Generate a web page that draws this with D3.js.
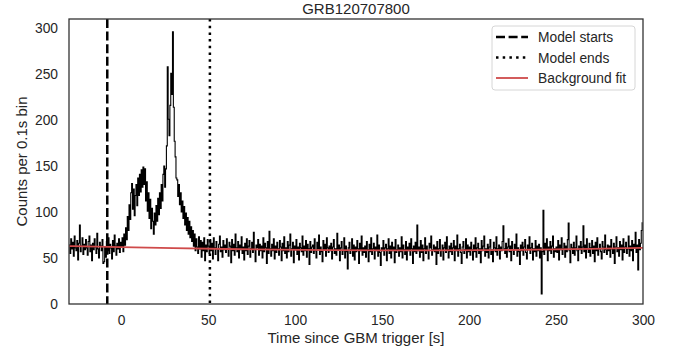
<!DOCTYPE html>
<html>
<head>
<meta charset="utf-8">
<script src="https://cdn.jsdelivr.net/npm/d3@7"></script>
<style>
  html, body { margin: 0; padding: 0; background: #fff; }
  svg { display: block; font-family: "Liberation Sans", Arial, sans-serif; }
</style>
</head>
<body>
<svg id="chart" width="680" height="354"></svg>
<script>
// light curve, one value every 0.5 s starting at -30 s
const startTime = -30;
const binStep = 0.5;
const counts = [
  64, 55, 71, 60, 67, 52, 74, 61, 58, 69, 48, 66, 86, 57, 63, 72, 54, 65, 59, 70,
  61, 53, 68, 74, 57, 64, 47, 66, 59, 71, 62, 55, 77, 60, 50, 67, 63, 58, 70, 44,
  46, 62, 51, 68, 58, 72, 55, 65, 61, 49, 69, 57, 75, 63, 53, 66, 60, 71, 56, 67,
  62, 72, 57, 76, 64, 83, 70, 95, 80, 108, 92, 121, 131, 103, 125, 96, 118, 130, 107, 137,
  118, 141, 122, 146, 127, 149, 130, 147, 112, 133, 101, 121, 93, 114, 82, 104, 90, 76, 99, 86,
  107, 90, 115, 97, 121, 104, 130, 112, 141, 150, 127, 147, 172, 258, 201, 183, 216, 251, 228, 296,
  214, 177, 160, 137, 135, 117, 130, 108, 121, 100, 112, 93, 106, 86, 99, 80, 94, 76, 90, 72,
  84, 68, 80, 63, 76, 58, 71, 62, 55, 73, 60, 69, 51, 67, 58, 72, 47, 64, 57, 70,
  63, 55, 70, 58, 66, 49, 72, 61, 54, 68, 60, 47, 65, 74, 57, 62, 51, 69, 59, 64,
  56, 71, 60, 52, 67, 63, 45, 70, 58, 65, 53, 76, 61, 57, 68, 50, 64, 59, 73, 55,
  62, 48, 66, 58, 71, 54, 63, 69, 51, 60, 67, 56, 78, 59, 46, 64, 61, 70, 53, 65,
  58, 63, 50, 72, 57, 66, 61, 44, 68, 55, 79, 60, 52, 65, 58, 71, 49, 63, 56, 67,
  60, 53, 69, 62, 47, 66, 58, 73, 55, 61, 50, 68, 57, 64, 76, 52, 60, 67, 45, 63,
  59, 70, 54, 62, 48, 66, 61, 57, 74, 53, 63, 58, 69, 51, 65, 60, 43, 68, 56, 62,
  64, 55, 71, 58, 50, 67, 60, 75, 54, 62, 57, 46, 69, 59, 65, 52, 72, 61, 56, 63,
  58, 66, 49, 62, 70, 55, 60, 53, 77, 59, 64, 47, 61, 68, 54, 58, 72, 50, 63, 57,
  38, 61, 67, 55, 59, 71, 52, 64, 48, 62, 57, 69, 60, 44, 66, 58, 74, 53, 61, 56,
  63, 51, 68, 59, 46, 65, 57, 72, 54, 60, 66, 49, 62, 58, 75, 52, 64, 56, 42, 61,
  58, 69, 53, 61, 65, 47, 60, 71, 55, 63, 50, 67, 58, 62, 45, 70, 56, 59, 64, 52,
  61, 57, 73, 50, 64, 59, 54, 68, 48, 62, 58, 66, 53, 71, 60, 44, 63, 57, 67, 55,
  86, 58, 62, 51, 69, 56, 64, 47, 60, 72, 55, 63, 58, 49, 66, 61, 74, 53, 59, 64,
  57, 62, 43, 68, 55, 60, 70, 52, 58, 64, 48, 61, 67, 56, 73, 59, 50, 63, 57, 66,
  54, 61, 69, 47, 63, 58, 75, 52, 60, 65, 56, 44, 62, 68, 55, 59, 71, 50, 64, 57,
  62, 53, 67, 59, 48, 64, 57, 72, 51, 61, 66, 55, 60, 45, 69, 58, 63, 74, 52, 60,
  56, 65, 50, 62, 70, 54, 59, 46, 67, 61, 57, 73, 53, 60, 64, 49, 62, 58, 68, 85,
  60, 55, 66, 51, 62, 71, 57, 63, 47, 68, 59, 54, 65, 60, 76, 52, 61, 57, 43, 64,
  58, 67, 53, 62, 70, 56, 49, 64, 59, 73, 55, 61, 66, 48, 60, 57, 69, 52, 63, 58,
  65, 50, 61, 11, 57, 102, 54, 66, 59, 71, 47, 62, 58, 68, 55, 63, 74, 51, 60, 57,
  62, 56, 69, 48, 64, 59, 72, 54, 60, 66, 51, 63, 57, 70, 88, 58, 45, 65, 61, 55,
  67, 53, 61, 74, 58, 47, 63, 59, 68, 55, 62, 85, 57, 64, 50, 71, 60, 56, 66, 52,
  61, 69, 55, 63, 46, 67, 58, 72, 53, 60, 65, 57, 49, 68, 62, 56, 75, 59, 54, 64,
  58, 63, 51, 70, 60, 55, 66, 44, 62, 73, 57, 61, 52, 68, 59, 64, 48, 71, 56, 62,
  67, 55, 60, 74, 52, 63, 58, 69, 47, 65, 61, 78, 56, 64, 37, 70, 59, 66, 80, 89
];

// background fit, sampled along the red curve
const fitTimes = [-30, 0, 30, 60, 90, 120, 150, 180, 210, 240, 270, 300];
const fitValues = [63.0, 61.8, 60.7, 59.8, 59.1, 58.6, 58.3, 58.3, 58.5, 59.1, 59.9, 61.0];

const modelStart = -8;
const modelEnd = 51;

const xTicks = [0, 50, 100, 150, 200, 250, 300];
const yTicks = [0, 50, 100, 150, 200, 250, 300];
const legendLabels = ["Model starts", "Model ends", "Background fit"];

const chartTitle = "GRB120707800";
const xLabel = "Time since GBM trigger [s]";
const yLabel = "Counts per 0.1s bin";

const margin = { top: 19, right: 37, bottom: 50, left: 69 };
const width = 680 - margin.left - margin.right;
const height = 354 - margin.top - margin.bottom;
const textColor = "#262626";

const svg = d3.select("#chart");
const g = svg.append("g").attr("transform", `translate(${margin.left},${margin.top})`);

const x = d3.scaleLinear().domain([-30, 300]).range([0, width]);
const y = d3.scaleLinear().domain([0, 310]).range([height, 0]);

const lcData = counts.map((c, i) => ({ t: startTime + i * binStep, c }));
const fitData = fitTimes.map((t, i) => ({ t, c: fitValues[i] }));

g.append("clipPath").attr("id", "plotClip")
  .append("rect").attr("width", width).attr("height", height);

const plot = g.append("g").attr("clip-path", "url(#plotClip)");

// light curve
plot.append("path")
  .datum(lcData)
  .attr("fill", "none")
  .attr("stroke", "#000")
  .attr("stroke-width", 1.1)
  .attr("d", d3.line().x(d => x(d.t)).y(d => y(d.c)).curve(d3.curveStepAfter));

// model start / end markers
plot.append("line")
  .attr("x1", x(modelStart)).attr("x2", x(modelStart))
  .attr("y1", 0).attr("y2", height)
  .attr("stroke", "#000").attr("stroke-width", 2.5)
  .attr("stroke-dasharray", "9,3.6");

plot.append("line")
  .attr("x1", x(modelEnd)).attr("x2", x(modelEnd))
  .attr("y1", 0).attr("y2", height)
  .attr("stroke", "#000").attr("stroke-width", 2.5)
  .attr("stroke-dasharray", "2.5,4.2");

// background fit
plot.append("path")
  .datum(fitData)
  .attr("fill", "none")
  .attr("stroke", "#cf4a4a")
  .attr("stroke-width", 1.8)
  .attr("d", d3.line().x(d => x(d.t)).y(d => y(d.c)).curve(d3.curveNatural));

// axes (no tick marks, seaborn white style)
const xAxis = g.append("g")
  .attr("transform", `translate(0,${height})`)
  .call(d3.axisBottom(x).tickValues(xTicks).tickSize(0).tickPadding(11));
const yAxis = g.append("g")
  .call(d3.axisLeft(y).tickValues(yTicks).tickSize(0).tickPadding(11));

[xAxis, yAxis].forEach(a => {
  a.select(".domain").remove();
  a.selectAll("text")
    .attr("fill", textColor)
    .style("font-size", "13.8px")
    .style("font-family", "'Liberation Sans', Arial, sans-serif");
});

// frame
g.append("rect")
  .attr("width", width).attr("height", height)
  .attr("fill", "none")
  .attr("stroke", "#333")
  .attr("stroke-width", 1.3);

// title and axis labels
svg.append("text")
  .attr("x", margin.left + width / 2).attr("y", 14)
  .attr("text-anchor", "middle")
  .attr("fill", textColor)
  .style("font-size", "15px")
  .text(chartTitle);

svg.append("text")
  .attr("x", margin.left + width / 2).attr("y", 343)
  .attr("text-anchor", "middle")
  .attr("fill", textColor)
  .style("font-size", "15px")
  .text(xLabel);

svg.append("text")
  .attr("transform", `translate(27,${margin.top + height / 2}) rotate(-90)`)
  .attr("text-anchor", "middle")
  .attr("fill", textColor)
  .style("font-size", "15px")
  .text(yLabel);

// legend
const legend = svg.append("g").attr("transform", "translate(492,26)");
legend.append("rect")
  .attr("width", 143).attr("height", 64)
  .attr("rx", 3)
  .attr("fill", "#fff").attr("fill-opacity", 0.8)
  .attr("stroke", "#d6d6d6").attr("stroke-width", 1);

const legendStyles = [
  { color: "#000", w: 2.5, dash: "9,3.6" },
  { color: "#000", w: 2.5, dash: "2.5,4.2" },
  { color: "#cf4a4a", w: 1.8, dash: null }
];

legendLabels.forEach((label, i) => {
  const row = legend.append("g").attr("transform", `translate(0,${11 + i * 20.5})`);
  row.append("line")
    .attr("x1", 4).attr("x2", 36)
    .attr("stroke", legendStyles[i].color)
    .attr("stroke-width", legendStyles[i].w)
    .attr("stroke-dasharray", legendStyles[i].dash);
  row.append("text")
    .attr("x", 46).attr("y", 5)
    .attr("fill", textColor)
    .style("font-size", "13.8px")
    .text(label);
});
</script>
</body>
</html>
